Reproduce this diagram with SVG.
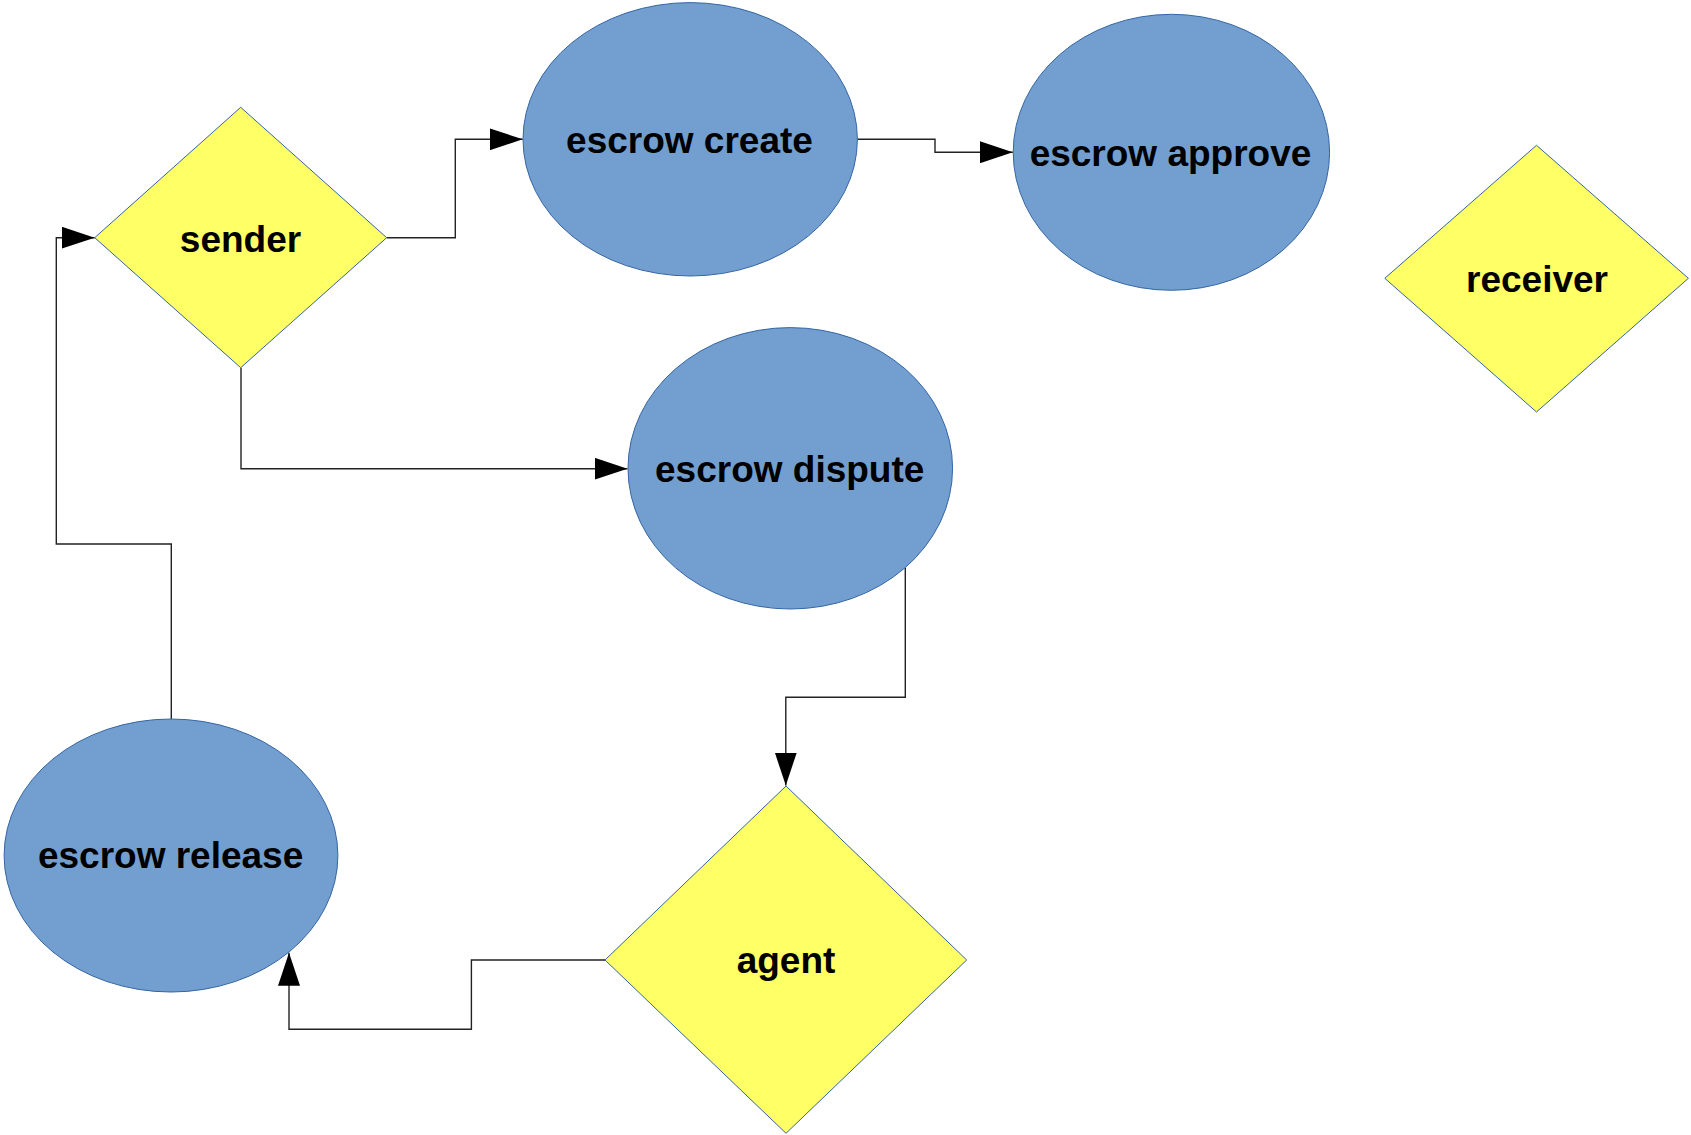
<svg xmlns="http://www.w3.org/2000/svg" width="1691" height="1135" viewBox="0 0 1691 1135">
<style>
.ell{fill:#729fcf;stroke:#3465a4;stroke-width:1}
.dia{fill:#ffff66;stroke:#3465a4;stroke-width:1}
.lbl{font-family:"Liberation Sans",Arial,sans-serif;font-weight:bold;font-size:37px;fill:#000;text-anchor:middle}
.con{fill:none;stroke:#222;stroke-width:1.4;marker-end:url(#arr)}
.con2{fill:none;stroke:#222;stroke-width:1.4}
</style>
<defs>
<marker id="arr" markerUnits="userSpaceOnUse" markerWidth="34" markerHeight="22" refX="33" refY="11" orient="auto" viewBox="0 0 34 22">
<path d="M0,0 L33,11 L0,22 z" fill="#000"/>
</marker>
</defs>
<rect width="1691" height="1135" fill="#fff"/>
<g id="connectors">
<path class="con" d="M386.7,237.7 H455.3 V139.3 H522.7"/>
<path class="con" d="M857.4,139.3 H935 V152.3 H1012.8"/>
<path class="con" d="M241,367.7 V468.7 H627.5"/>
<path class="con" d="M905.3,567.7 V697.3 H785.8 V785.5"/>
<path class="con" d="M605,960 H471.4 V1029.3 H289 V952.7"/>
<path class="con" d="M171.3,719 V544 H56.3 V237.7 H94.7"/>
</g>
<g id="sender">
<polygon class="dia" points="240.7,107.3 386.7,237.7 240.7,367.7 94.7,237.7"/>
<text class="lbl" x="240.5" y="251.5">sender</text>
</g>
<g id="escrow-create">
<ellipse class="ell" cx="690.2" cy="139.3" rx="167.2" ry="136.7"/>
<text class="lbl" x="689.5" y="153">escrow create</text>
</g>
<g id="escrow-approve">
<ellipse class="ell" cx="1171.4" cy="152.3" rx="158.2" ry="138"/>
<text class="lbl" x="1170.5" y="165.7">escrow approve</text>
</g>
<g id="receiver">
<polygon class="dia" points="1536.5,145.3 1688.4,278.3 1536.5,412 1384.8,278.3"/>
<text class="lbl" x="1537" y="292">receiver</text>
</g>
<g id="escrow-dispute">
<ellipse class="ell" cx="790.3" cy="468.3" rx="162.3" ry="140.7"/>
<text class="lbl" x="789.7" y="481.7">escrow dispute</text>
</g>
<g id="agent">
<polygon class="dia" points="786,786 966.7,960 786,1133.3 605,960"/>
<text class="lbl" x="786" y="972.7">agent</text>
</g>
<g id="escrow-release">
<ellipse class="ell" cx="171" cy="855.5" rx="166.9" ry="136.5"/>
<text class="lbl" x="170.6" y="868.3">escrow release</text>
</g>
</svg>
